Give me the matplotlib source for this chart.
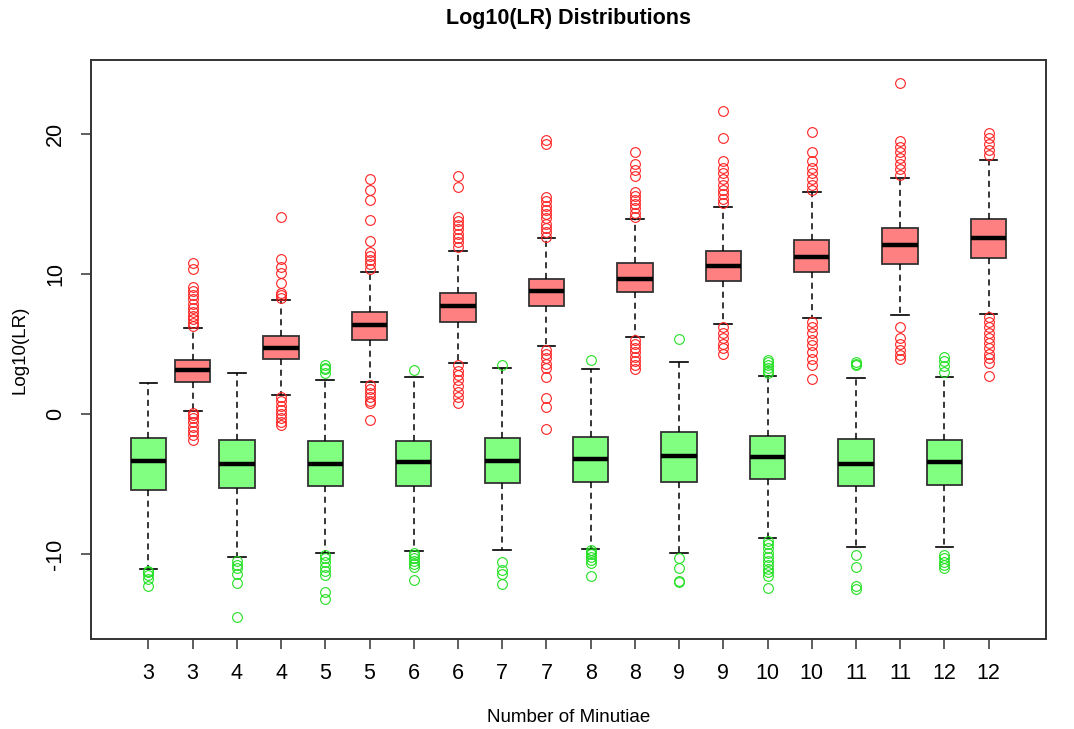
import matplotlib
matplotlib.use("Agg")
import matplotlib.pyplot as plt

plt.rcParams["font.family"] = ["Liberation Sans", "DejaVu Sans"]

minutiae = [3, 4, 5, 6, 7, 8, 9, 10, 11, 12]

# non-mated comparisons (green)
non_q1 = [-5.45, -5.29, -5.14, -5.12, -4.95, -4.83, -4.83, -4.62, -5.12, -5.05]
non_med = [-3.38, -3.57, -3.57, -3.40, -3.33, -3.21, -3.00, -3.07, -3.57, -3.40]
non_q3 = [-1.69, -1.86, -1.90, -1.90, -1.69, -1.62, -1.29, -1.60, -1.79, -1.83]
non_lo = [-11.05, -10.21, -9.90, -9.79, -9.71, -9.64, -9.93, -8.88, -9.52, -9.52]
non_hi = [2.24, 2.90, 2.43, 2.64, 3.31, 3.21, 3.69, 2.74, 2.55, 2.64]
non_out = [
    [-11.2, -11.3, -11.5, -11.8, -12.26],
    [-10.5, -10.8, -11.0, -11.4, -12.07, -14.5],
    [3.5, 3.3, 3.19, 2.9, -10.1, -10.3, -10.6, -10.9, -11.2, -11.5, -12.7, -13.2],
    [3.12, -9.95, -10.1, -10.3, -10.5, -10.7, -10.9, -11.86],
    [3.5, -10.55, -11.14, -11.4, -12.17],
    [3.86, -9.7, -9.85, -10.0, -10.2, -10.4, -10.67, -11.6],
    [5.36, -10.3, -11.0, -11.9, -12.0],
    [3.86, 3.7, 3.5, 3.3, 3.1, 2.9, -9.1, -9.3, -9.6, -9.9, -10.2, -10.5,
     -10.8, -11.1, -11.3, -11.6, -12.45],
    [3.74, 3.6, 3.5, -10.1, -10.9, -12.3, -12.5],
    [4.1, 3.8, 3.4, 3.0, -10.07, -10.3, -10.6, -10.8, -11.0],
]

# mated comparisons (red)
mat_q1 = [2.31, 3.90, 5.29, 6.57, 7.71, 8.69, 9.52, 10.17, 10.74, 11.17]
mat_med = [3.12, 4.71, 6.33, 7.71, 8.79, 9.67, 10.60, 11.24, 12.05, 12.55]
mat_q3 = [3.86, 5.60, 7.31, 8.62, 9.67, 10.83, 11.64, 12.43, 13.26, 13.93]
mat_lo = [0.21, 1.33, 2.31, 3.62, 4.86, 5.52, 6.43, 6.83, 7.05, 7.14]
mat_hi = [6.17, 8.17, 10.17, 11.64, 12.55, 13.95, 14.79, 15.88, 16.88, 18.14]
mat_out = [
    [10.8, 10.38, 9.1, 8.8, 8.5, 8.2, 7.9, 7.6, 7.3, 7.0, 6.8, 6.5, 6.3,
     0.1, -0.1, -0.3, -0.6, -0.9, -1.2, -1.5, -1.86],
    [14.05, 11.05, 10.5, 10.05, 9.33, 8.64, 8.5, 8.3,
     1.2, 0.9, 0.6, 0.3, 0.0, -0.3, -0.55, -0.79],
    [16.8, 16.0, 15.3, 13.86, 12.36, 11.6, 11.3, 11.0, 10.7, 10.4,
     2.07, 1.8, 1.5, 1.2, 0.9, 0.76, -0.43],
    [17.0, 16.24, 14.1, 13.8, 13.5, 13.2, 12.9, 12.6, 12.3, 11.95,
     3.5, 3.1, 2.8, 2.4, 2.0, 1.6, 1.2, 0.76],
    [19.57, 19.33, 15.5, 15.2, 14.9, 14.6, 14.3, 14.0, 13.6, 13.3, 13.0, 12.66,
     4.6, 4.3, 4.0, 3.6, 3.3, 2.66, 1.12, 0.52, -1.1],
    [18.7, 17.9, 17.43, 17.0, 15.9, 15.6, 15.3, 15.0, 14.7, 14.4, 14.1,
     5.3, 5.0, 4.7, 4.4, 4.1, 3.8, 3.5, 3.2],
    [21.64, 19.74, 18.1, 17.6, 17.2, 16.8, 16.4, 16.0, 15.7, 15.4, 15.05,
     6.2, 5.8, 5.4, 5.0, 4.7, 4.3],
    [20.17, 18.74, 18.1, 17.6, 17.2, 16.8, 16.4, 16.0,
     6.6, 6.2, 5.8, 5.3, 4.9, 4.4, 3.9, 3.5, 2.48],
    [23.67, 19.5, 19.1, 18.7, 18.3, 17.9, 17.5, 17.07,
     6.19, 5.4, 5.0, 4.6, 4.2, 3.9],
    [20.05, 19.7, 19.3, 18.9, 18.5,
     6.95, 6.6, 6.2, 5.8, 5.4, 5.05, 4.7, 4.3, 4.0, 3.62, 2.71],
]

green_fill = "#80FF80"
red_fill = "#FF8080"
green_pt = "#22E022"
red_pt = "#FF2020"

fig = plt.figure(figsize=(10.74, 7.29), dpi=100)
ax = fig.add_axes([0.0847, 0.1235, 0.8893, 0.7942])

stats = []
box_colors = []
pt_colors = []
labels = []
for i, m in enumerate(minutiae):
    stats.append(dict(q1=non_q1[i], med=non_med[i], q3=non_q3[i],
                      whislo=non_lo[i], whishi=non_hi[i], fliers=non_out[i]))
    box_colors.append(green_fill)
    pt_colors.append(green_pt)
    labels.append(str(m))
    stats.append(dict(q1=mat_q1[i], med=mat_med[i], q3=mat_q3[i],
                      whislo=mat_lo[i], whishi=mat_hi[i], fliers=mat_out[i]))
    box_colors.append(red_fill)
    pt_colors.append(red_pt)
    labels.append(str(m))

positions = list(range(1, len(stats) + 1))
bp = ax.bxp(stats, positions=positions, widths=0.8, capwidths=0.4,
            patch_artist=True, showfliers=True,
            boxprops=dict(edgecolor="#333333", linewidth=1.3),
            medianprops=dict(color="black", linewidth=3.2, solid_capstyle="butt"),
            whiskerprops=dict(color="black", linewidth=1.1, linestyle=(0, (4, 3))),
            capprops=dict(color="black", linewidth=1.2),
            flierprops=dict(marker="o", markerfacecolor="none",
                            markersize=7, markeredgewidth=0.8))

for patch, c in zip(bp["boxes"], box_colors):
    patch.set_facecolor(c)
for fl, c in zip(bp["fliers"], pt_colors):
    fl.set_markeredgecolor(c)

ax.set_xlim(-0.3, 21.3)
ax.set_ylim(-16.07, 25.3)
ax.set_xticks(positions)
ax.set_xticklabels(labels, fontsize=15.5)
ax.set_yticks([-10, 0, 10, 20])
ax.set_yticklabels(["-10", "0", "10", "20"], fontsize=15.5, rotation=90, va="center")
ax.tick_params(direction="out", length=7, width=1.1, color="#333333")
ax.tick_params(axis="x", pad=10)
ax.tick_params(axis="y", pad=11)

for s in ax.spines.values():
    s.set_color("#333333")
    s.set_linewidth(1.4)

ax.set_ylabel("Log10(LR)", fontsize=13.5, labelpad=12)
ax.set_xlabel("Number of Minutiae", fontsize=13.5, labelpad=18)
# title is centred over the plotting region, not the whole figure
ax.set_title("Log10(LR) Distributions", fontsize=15.5, fontweight="bold", pad=26)

fig.savefig("out.png", dpi=100)
